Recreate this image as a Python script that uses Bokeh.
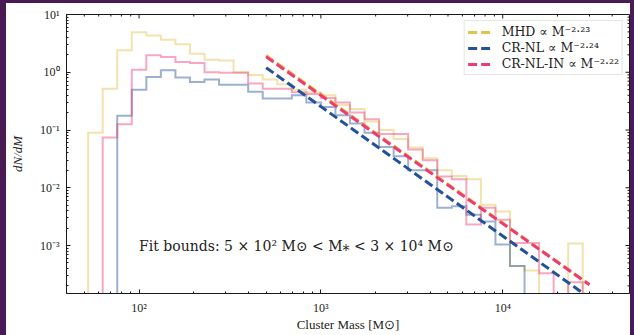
import numpy as np
from bokeh.plotting import figure
from bokeh.models import (FixedTicker, CustomJSTickFormatter, Legend,
                          LegendItem, Label, Spacer)
from bokeh.layouts import row, column
from bokeh.embed import file_html
from bokeh.resources import INLINE

# ---- data -------------------------------------------------------------
# histogram bins: 34 log-spaced bins, 0.08 dex wide
bin_edges = 10 ** (1.72 + 0.08 * np.arange(35))

# dN/dM per bin for each run
mhd = [0.09, 0.52, 2.4, 4.95, 4.35, 3.65, 3.05, 2.1, 1.65, 1.6,
       1.0, 0.9, 0.75, 0.62, 0.5, 0.45, 0.40, 0.27, 0.23, 0.14,
       0.10, 0.07, 0.05, 0.0325, 0.02, 0.016, 0.0141, 0.0051, 0.0039, 0.00044,
       0.00037, 0, 0, 0.00108]
cr_nl = [0, 0, 0.177, 0.50, 0.83, 1.08, 0.81, 0.68, 0.75, 0.61,
         0.61, 0.46, 0.35, 0.35, 0.40, 0.30, 0.25, 0.18, 0.13, 0.09,
         0.051, 0.035, 0.02, 0.02, 0.0045, 0.0048, 0.0034, 0.0026, 0.00104, 0.00044,
         0, 0, 0, 0]
cr_nl_in = [0, 0.074, 0.126, 1.11, 1.96, 1.84, 1.50, 1.45, 1.0, 0.98,
            0.98, 0.64, 0.52, 0.52, 0.45, 0.42, 0.36, 0.30, 0.20, 0.153,
            0.085, 0.085, 0.046, 0.03, 0.0157, 0.014, 0.0023, 0.0045, 0.0028, 0.0011,
            0.0011, 0.00033, 0, 0.00023]

# power-law fits over the fit window
fit_lo, fit_hi = 5e2, 3e4
fit_slopes = {"MHD": 2.23, "CR-NL": 2.24, "CR-NL-IN": 2.22}
fit_amps = {"MHD": 1.95, "CR-NL": 1.2, "CR-NL-IN": 1.85}   # dN/dM at fit_lo

series_names = ["MHD", "CR-NL", "CR-NL-IN"]
series_values = {"MHD": mhd, "CR-NL": cr_nl, "CR-NL-IN": cr_nl_in}
colors = {"MHD": "#e3c24a", "CR-NL": "#24529a", "CR-NL-IN": "#ee3b73"}
legend_labels = {"MHD": "MHD ∝ M⁻²·²³",
                 "CR-NL": "CR-NL ∝ M⁻²·²⁴",
                 "CR-NL-IN": "CR-NL-IN ∝ M⁻²·²²"}

x_major = [1e2, 1e3, 1e4]
x_minor = [m * 10 ** e for e in (1, 2, 3, 4) for m in range(2, 10)]
y_major = [1e-3, 1e-2, 1e-1, 1e0, 1e1]
y_minor = [m * 10 ** e for e in (-4, -3, -2, -1, 0) for m in range(2, 10)]

# ---- figure -----------------------------------------------------------
SERIF = "Liberation Serif"
WIDE_SERIF = "DejaVu Serif"
INK = "#1a1a1a"
purple = "#4a1a54"
floor = 1e-7
x_lo, x_hi = 39.9, 49800
y_lo, y_hi = 1.476e-4, 10

p = figure(width=624, height=332, x_axis_type="log", y_axis_type="log",
           x_range=(x_lo, x_hi), y_range=(y_lo, y_hi),
           output_backend="svg", toolbar_location=None,
           min_border_left=60, min_border_right=1,
           min_border_top=11, min_border_bottom=42)
p.grid.visible = False
p.outline_line_color = INK
p.outline_line_width = 1
p.background_fill_color = "white"
p.border_fill_color = "white"

sup_js = """
const s = {"-":"⁻","0":"⁰","1":"¹","2":"²","3":"³","4":"⁴","5":"⁵","6":"⁶","7":"⁷","8":"⁸","9":"⁹"};
const e = Math.round(Math.log10(tick));
return "10" + String(e).split("").map(c => s[c]).join("");
"""

for ax, major, minor in ((p.xaxis[0], x_major, x_minor),
                         (p.yaxis[0], y_major, y_minor)):
    ax.ticker = FixedTicker(ticks=major, minor_ticks=minor)
    ax.formatter = CustomJSTickFormatter(code=sup_js)
    ax.major_tick_in = 4
    ax.major_tick_out = 0
    ax.minor_tick_in = 2
    ax.minor_tick_out = 0
    ax.axis_line_color = INK
    ax.major_tick_line_color = INK
    ax.minor_tick_line_color = INK
    ax.major_label_text_font = SERIF
    ax.major_label_text_font_size = "12px"
    ax.major_label_text_color = "#222222"
    ax.major_label_standoff = 7
    ax.axis_label_text_font = SERIF
    ax.axis_label_text_font_size = "13px"
    ax.axis_label_text_color = "#222222"

p.xaxis[0].major_label_standoff = 7
p.xaxis[0].axis_label = "Cluster Mass [M⊙]"
p.xaxis[0].axis_label_text_font_style = "normal"
p.xaxis[0].axis_label_standoff = -1
p.yaxis[0].axis_label = "dN/dM"
p.yaxis[0].axis_label_text_font_style = "italic"
p.yaxis[0].axis_label_standoff = 12

# inward ticks mirrored on the top and right frame edges
for ticks, length in ((x_major, 4), (x_minor, 2)):
    p.ray(x=ticks, y=[y_hi] * len(ticks), length=length, length_units="screen",
          angle=-np.pi / 2, line_color=INK, line_width=1)
for ticks, length in ((y_major, 4), (y_minor, 2)):
    p.ray(x=[x_hi] * len(ticks), y=ticks, length=length, length_units="screen",
          angle=np.pi, line_color=INK, line_width=1)

# histograms drawn as step outlines
xs_step = np.repeat(bin_edges, 2)
for name in series_names:
    vals = np.asarray(series_values[name], dtype=float)
    v = np.where(vals > 0, vals, floor)
    ys_step = np.concatenate([[floor], np.repeat(v, 2), [floor]])
    p.line(xs_step, ys_step, line_color=colors[name], line_alpha=0.45,
           line_width=2, line_join="miter")

# fitted power laws
items = []
m_fit = np.array([fit_lo, fit_hi])
for name in series_names:
    y_fit = fit_amps[name] * (m_fit / fit_lo) ** (-fit_slopes[name])
    r = p.line(m_fit, y_fit, line_color=colors[name], line_width=3,
               line_dash="9 4")
    items.append(LegendItem(label=legend_labels[name], renderers=[r]))

legend = Legend(items=items, location="top_right", margin=6, padding=3,
                spacing=1, glyph_width=23, glyph_height=12, label_height=12,
                label_standoff=11, label_text_font=WIDE_SERIF,
                label_text_font_size="12.5px", label_text_color="#222222",
                label_text_line_height=1.0,
                border_line_color="#cccccc", border_line_width=1,
                background_fill_color="white", background_fill_alpha=0.85)
p.add_layout(legend)

p.add_layout(Label(x=fit_lo / 5, y=1e-3,
                   text="Fit bounds: 5 × 10² M⊙ < M⁎ < 3 × 10⁴ M⊙",
                   text_font=WIDE_SERIF, text_font_size="14px",
                   text_color="#222222", text_baseline="alphabetic"))

band = {"background-color": purple}
page = column(
    Spacer(width=634, height=3, styles=band),
    row(Spacer(width=6, height=332, styles=band), p,
        Spacer(width=4, height=332, styles=band)),
)

open("out.html", "w").write(file_html(page, INLINE))
